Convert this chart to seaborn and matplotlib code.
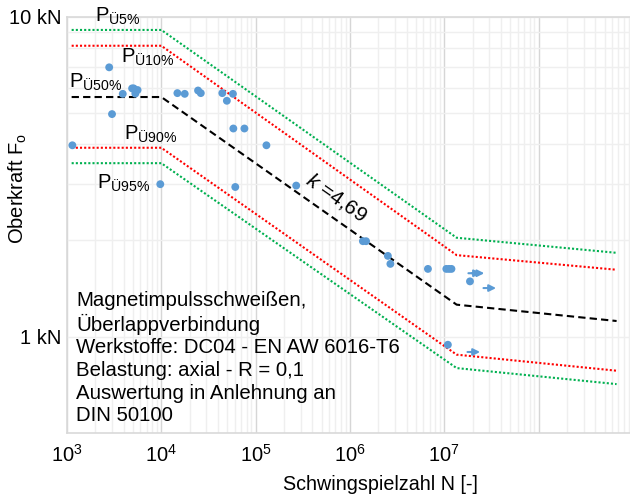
import numpy as np
import pandas as pd
import matplotlib
matplotlib.use("Agg")
import matplotlib.pyplot as plt
import seaborn as sns
from matplotlib.ticker import FixedLocator, NullFormatter, FixedFormatter

# ---------------- data ----------------
line_N = [1.12e3, 1.0e4, 1.35e7, 6.7e8]
p05 = [9.11, 9.11, 2.04, 1.83]
p10 = [8.13, 8.13, 1.80, 1.62]
p50 = [5.62, 5.62, 1.26, 1.12]
p90 = [3.90, 3.90, 0.879, 0.783]
p95 = [3.49, 3.49, 0.798, 0.711]

test_N = [2.8e3, 3.0e3, 1.14e3, 3.9e3, 4.9e3, 5.1e3, 5.6e3, 5.3e3, 9.75e3,
          1.48e4, 1.77e4, 2.45e4, 2.62e4, 4.43e4, 5.74e4, 4.95e4, 5.8e4, 7.6e4,
          1.3e5, 6.08e4, 2.69e5, 1.37e6, 1.48e6, 2.52e6, 2.68e6, 6.7e6,
          1.05e7, 1.12e7, 1.19e7, 1.87e7, 1.09e7]
test_F = [6.96, 4.97, 3.97, 5.75, 5.98, 5.98, 5.91, 5.76, 3.00,
          5.78, 5.75, 5.89, 5.78, 5.78, 5.75, 5.47, 4.48, 4.48,
          3.97, 2.94, 2.97, 1.99, 1.99, 1.79, 1.69, 1.63,
          1.63, 1.63, 1.63, 1.49, 0.944]

runout_N = [1.8e7, 1.95e7, 2.6e7, 1.76e7]
runout_F = [1.58, 1.58, 1.42, 0.896]

x_ticks = [1e3, 1e4, 1e5, 1e6, 1e7, 1e8, 1e9]
x_labels = [r"$10^{3}$", r"$10^{4}$", r"$10^{5}$", r"$10^{6}$", r"$10^{7}$", "", ""]
y_ticks = [1, 10]
y_labels = ["1 kN", "10 kN"]

# ---------------- style ----------------
sns.set_theme(style="white")
plt.rcParams["font.family"] = ["Liberation Sans", "DejaVu Sans"]
plt.rcParams["mathtext.fontset"] = "custom"
plt.rcParams["mathtext.rm"] = "Liberation Sans"
plt.rcParams["mathtext.it"] = "Liberation Sans:italic"
plt.rcParams["mathtext.bf"] = "Liberation Sans:bold"
plt.rcParams["mathtext.default"] = "regular"
for k in ["text.color", "axes.labelcolor", "xtick.color", "ytick.color"]:
    plt.rcParams[k] = "black"

BLUE = "#5b9bd5"
GREEN = "#00b050"
RED = "#ff0000"

fig = plt.figure(figsize=(6.3, 4.97), dpi=100)
ax = fig.add_axes([67 / 630, 64 / 497, 566 / 630, 416 / 497])
ax.set_xscale("log")
ax.set_yscale("log")

lines = pd.DataFrame({"N": line_N * 5,
                      "F": p05 + p10 + p50 + p90 + p95,
                      "q": ["p05"] * 4 + ["p10"] * 4 + ["p50"] * 4 + ["p90"] * 4 + ["p95"] * 4})

styles = {"p05": (GREEN, (0, (1, 1))), "p10": (RED, (0, (1, 1))),
          "p50": ("black", (0, (3.5, 2))), "p90": (RED, (0, (1, 1))),
          "p95": (GREEN, (0, (1, 1)))}
for q, (c, ls) in styles.items():
    sub = lines[lines["q"] == q]
    sns.lineplot(data=sub, x="N", y="F", ax=ax, color=c, lw=1.5,
                 linestyle=ls, estimator=None, sort=False, legend=False)

pts = pd.DataFrame({"N": test_N, "F": test_F})
sns.scatterplot(data=pts, x="N", y="F", ax=ax, color=BLUE, s=32,
                edgecolor="none", zorder=5, legend=False)

for n, f in zip(runout_N, runout_F):
    ax.annotate("", xy=(n * 1.36, f), xytext=(n, f),
                arrowprops=dict(arrowstyle="-|>", color=BLUE, lw=1.5,
                                mutation_scale=10, shrinkA=0, shrinkB=0),
                zorder=5)

ax.set_xlim(1e3, 1e9)
ax.set_ylim(0.5, 10)

ax.xaxis.set_major_locator(FixedLocator(x_ticks))
ax.xaxis.set_major_formatter(FixedFormatter(x_labels))
ax.xaxis.set_minor_locator(FixedLocator(
    [m * 10 ** e for e in range(3, 9) for m in range(2, 10)]))
ax.xaxis.set_minor_formatter(NullFormatter())
ax.yaxis.set_major_locator(FixedLocator(y_ticks))
ax.yaxis.set_major_formatter(FixedFormatter(y_labels))
ax.yaxis.set_minor_locator(FixedLocator([2, 3, 4, 5, 6, 7, 8, 9]))
ax.yaxis.set_minor_formatter(NullFormatter())

ax.tick_params(axis="both", which="both", length=0)
ax.tick_params(axis="x", which="major", labelsize=14.5, pad=8)
ax.tick_params(axis="y", which="major", labelsize=14.5, pad=4)

ax.grid(True, which="major", axis="x", color="#d6d6d6", lw=1)
ax.grid(True, which="minor", axis="x", color="#efefef", lw=1)
ax.grid(True, which="both", axis="y", color="#efefef", lw=1)
ax.set_axisbelow(True)
for s in ax.spines.values():
    s.set_color("#d9d9d9")
    s.set_linewidth(1.2)

ax.set_xlabel("Schwingspielzahl N [-]", fontsize=14.2)
ax.set_ylabel(r"Oberkraft F$_{\mathrm{o}}$", fontsize=14.5)
ax.xaxis.set_label_coords(0.553, -0.10)
ax.yaxis.set_label_coords(-0.068, 0.587)

# quantile labels
qlabels = [(r"P$_{Ü5\%}$", 0.0497, 0.988),
           (r"P$_{Ü10\%}$", 0.0954, 0.889),
           (r"P$_{Ü50\%}$", 0.0036, 0.831),
           (r"P$_{Ü90\%}$", 0.1013, 0.704),
           (r"P$_{Ü95\%}$", 0.0533, 0.588)]
for t, xf, yf in qlabels:
    ax.text(xf, yf, t, transform=ax.transAxes, fontsize=14.5,
            ha="left", va="baseline", zorder=6)

ax.text(0.476, 0.567, r"$\mathit{k}$ =4,69", transform=ax.transAxes,
        fontsize=15, rotation=-35, rotation_mode="anchor",
        ha="center", va="center", zorder=6)

info = ("Magnetimpulsschweißen,\nÜberlappverbindung\n"
        "Werkstoffe: DC04 - EN AW 6016-T6\nBelastung: axial - R = 0,1\n"
        "Auswertung in Anlehnung an\nDIN 50100")
ax.text(0.016, 0.342, info, transform=ax.transAxes, fontsize=14.7,
        ha="left", va="top", linespacing=1.24, zorder=6)

fig.savefig("out.png", dpi=100)
